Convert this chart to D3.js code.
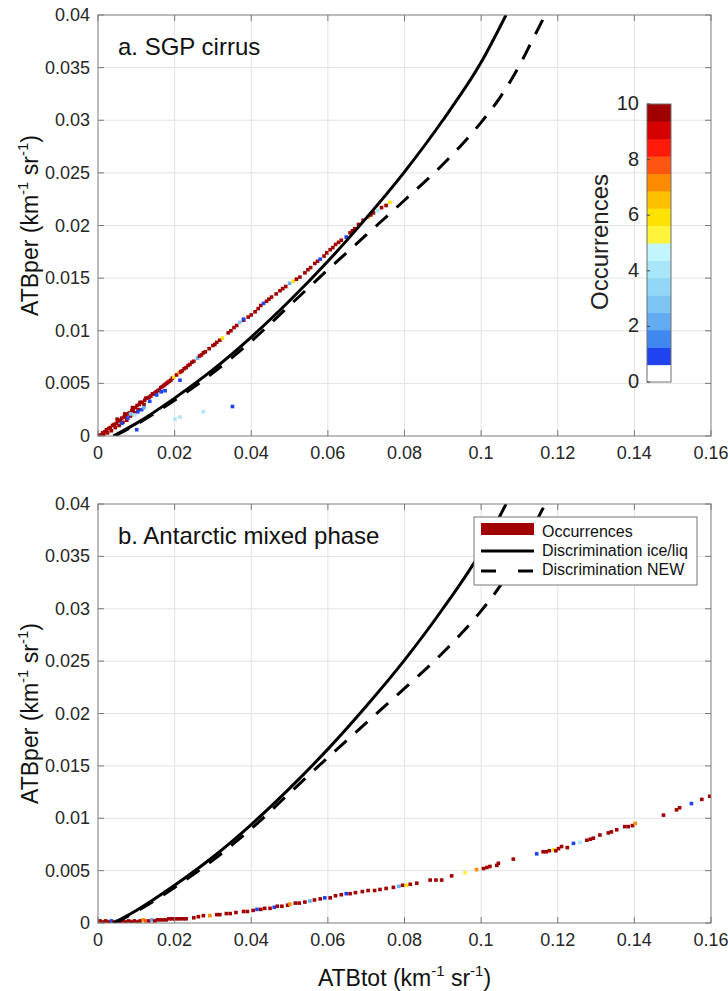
<!DOCTYPE html>
<html><head><meta charset="utf-8">
<script src="https://cdn.jsdelivr.net/npm/d3@7"></script>
<style>
body{margin:0;background:#fff}
svg{display:block}
text{font-family:"Liberation Sans",Arial,Helvetica,sans-serif}
</style>
</head><body>
<svg id="chart" width="728" height="991"></svg>
<script>
// ---------------- data ----------------
const xTicks = [0, 0.02, 0.04, 0.06, 0.08, 0.1, 0.12, 0.14, 0.16];
const xTickLabels = ["0", "0.02", "0.04", "0.06", "0.08", "0.1", "0.12", "0.14", "0.16"];
const yTicks = [0, 0.005, 0.01, 0.015, 0.02, 0.025, 0.03, 0.035, 0.04];
const yTickLabels = ["0", "0.005", "0.01", "0.015", "0.02", "0.025", "0.03", "0.035", "0.04"];
const colorbarTicks = [0, 2, 4, 6, 8, 10];
const colormap = ["#ffffff", "#2043f0", "#3f88ef", "#63acf2", "#7cc4f4", "#93d7f6", "#a9e6f9", "#c3f5fc",
                  "#fff43c", "#ffe300", "#ffc000", "#ff8c00", "#ff5510", "#ff1a0a", "#d50000", "#a10000"];
const legendLabels = ["Occurrences", "Discrimination ice/liq", "Discrimination NEW"];
const panelTitles = ["a. SGP cirrus", "b. Antarctic mixed phase"];

// discrimination curves [ATBtot, ATBper]
const solidCurve = [[0.0040,0],[0.010,0.0012],[0.020,0.0036],[0.030,0.0063],[0.040,0.0094],[0.050,0.01285],
  [0.060,0.0166],[0.070,0.0207],[0.080,0.0251],[0.090,0.0300],[0.100,0.0355],[0.1065,0.0400]];
const dashedCurve = [[0.0044,0],[0.010,0.0011],[0.020,0.0034],[0.030,0.0060],[0.040,0.0090],[0.050,0.0124],
  [0.060,0.0158],[0.070,0.0191],[0.080,0.0224],[0.090,0.0258],[0.095,0.0277],[0.100,0.0298],[0.105,0.0322],
  [0.110,0.0352],[0.1135,0.0377],[0.1170,0.0402]];

// occurrence cells [ATBtot, ATBper, count]
const cirrusCells = [
  [0.0005,0.0001,10],[0.0012,0.0003,10],[0.0015,0.0001,10],[0.0018,0.0004,10],[0.0022,0.0006,10],[0.0025,0.0003,10],
  [0.0028,0.0007,10],[0.0032,0.0008,10],[0.0035,0.0005,10],[0.0038,0.0010,10],[0.0042,0.0011,10],[0.0045,0.0008,10],
  [0.0048,0.0012,10],[0.0050,0.0016,10],[0.0052,0.0014,10],[0.0055,0.0010,10],[0.0058,0.0015,10],[0.0062,0.0017,10],
  [0.0065,0.0013,10],[0.0068,0.0018,10],[0.0070,0.0021,10],[0.0072,0.0019,10],[0.0075,0.0015,10],[0.0078,0.0021,10],
  [0.0082,0.0022,10],[0.0085,0.0019,10],[0.0088,0.0024,10],[0.0090,0.0027,10],[0.0092,0.0025,10],[0.0095,0.0022,10],
  [0.0098,0.0027,10],[0.0102,0.0029,10],[0.0105,0.0025,10],[0.0108,0.0030,10],[0.0110,0.0032,10],[0.0115,0.0032,10],
  [0.0120,0.0030,10],[0.0122,0.0034,10],[0.0125,0.0036,10],[0.0130,0.0036,10],[0.0134,0.0037,10],[0.0138,0.0038,10],
  [0.0142,0.0040,10],[0.0145,0.0040,10],[0.0149,0.0041,10],[0.0152,0.0042,10],[0.0156,0.0043,10],[0.0160,0.0044,10],
  [0.0164,0.0046,10],[0.0168,0.0047,10],[0.0172,0.0048,10],[0.0175,0.0049,10],[0.0179,0.0050,10],[0.0182,0.0051,10],
  [0.0186,0.0052,10],[0.0190,0.0053,10],[0.0194,0.0055,10],
  [0.0198,0.0056,6],[0.0205,0.0058,10],[0.0212,0.0060,7],[0.0216,0.0061,10],[0.0220,0.0062,10],[0.0225,0.0064,10],
  [0.0230,0.0065,10],[0.0235,0.0067,10],[0.0240,0.0068,10],[0.0245,0.0070,10],
  [0.0250,0.0071,10],[0.0260,0.0074,2],[0.0265,0.0076,10],[0.0270,0.0077,10],[0.0275,0.0079,10],[0.0280,0.0080,10],
  [0.0290,0.0083,10],[0.0300,0.0086,10],[0.0305,0.0087,10],
  [0.0310,0.0089,10],[0.0318,0.0091,10],[0.0325,0.0093,6],[0.0340,0.0098,10],[0.0347,0.0100,10],[0.0355,0.0103,10],
  [0.0362,0.0105,10],[0.0370,0.0108,3],[0.0380,0.0110,10],
  [0.0392,0.0113,10],[0.0400,0.0115,10],[0.0410,0.0118,10],[0.0418,0.0121,10],[0.0425,0.0124,10],[0.0432,0.0126,1],
  [0.0440,0.0128,10],[0.0446,0.0130,10],[0.0453,0.0132,10],
  [0.0465,0.0135,10],[0.0475,0.0138,10],[0.0482,0.0140,10],[0.0490,0.0142,10],[0.0500,0.0145,2],[0.0510,0.0147,6],
  [0.0518,0.0149,10],[0.0527,0.0151,10],
  [0.0540,0.0155,10],[0.0548,0.0158,10],[0.0555,0.0160,10],[0.0566,0.0164,10],[0.0573,0.0166,10],[0.0580,0.0168,1],
  [0.0590,0.0171,10],[0.0597,0.0174,10],
  [0.0606,0.0177,10],[0.0613,0.0179,10],[0.0620,0.0182,10],[0.0628,0.0184,10],[0.0635,0.0186,10],[0.0648,0.0189,1],
  [0.0658,0.0193,10],[0.0664,0.0195,10],[0.0670,0.0197,10],
  [0.0680,0.0201,10],[0.0692,0.0205,10],[0.0705,0.0208,7],[0.0712,0.0210,10],[0.0719,0.0212,10],[0.0730,0.0214,4],
  [0.0740,0.0217,10],[0.0752,0.0219,10],[0.0762,0.0222,6],
  [0.0062,0.0012,1],[0.0078,0.0017,1],[0.0085,0.0021,3],[0.0095,0.0020,4],[0.0104,0.0023,1],[0.0114,0.0025,1],
  [0.0153,0.0039,1],[0.0165,0.0042,1],[0.0175,0.0043,1],[0.0214,0.0053,1],[0.0101,0.0006,1],[0.0201,0.0016,4],
  [0.0214,0.0018,4],[0.0275,0.0023,4],[0.0351,0.0028,1],[0.0135,0.0033,1],[0.0120,0.0027,2],[0.0380,0.0111,1]
];
const antarcticCells = [
  [0.0005,0.0002,10],[0.0013,0.0001,10],[0.0020,0.0002,10],[0.0028,0.0001,10],[0.0035,0.0002,1],[0.0042,0.0001,10],
  [0.0050,0.0002,3],[0.0058,0.0001,10],[0.0065,0.0002,10],[0.0072,0.0001,10],[0.0080,0.0002,10],[0.0088,0.0001,10],
  [0.0095,0.0002,10],[0.0103,0.0001,10],[0.0110,0.0002,10],[0.0118,0.0003,7],[0.0125,0.0002,8],[0.0133,0.0002,10],
  [0.0140,0.0003,2],[0.0148,0.0002,10],[0.0155,0.0003,10],[0.0163,0.0003,10],[0.0170,0.0003,10],[0.0178,0.0003,10],
  [0.0185,0.0004,10],[0.0193,0.0004,10],[0.0200,0.0004,10],[0.0208,0.0004,10],[0.0215,0.0004,10],[0.0223,0.0004,10],
  [0.0230,0.0004,10],[0.0250,0.0005,10],[0.0262,0.0006,10],[0.0275,0.0007,10],[0.0292,0.0007,7],[0.0310,0.0008,10],
  [0.0318,0.0008,10],[0.0335,0.0009,10],[0.0345,0.0009,10],[0.0360,0.0010,10],[0.0380,0.0011,10],[0.0390,0.0011,10],
  [0.0405,0.0012,10],[0.0415,0.0013,1],[0.0425,0.0013,10],[0.0435,0.0014,10],[0.0449,0.0014,10],[0.0460,0.0015,1],
  [0.0468,0.0016,10],[0.0480,0.0016,10],[0.0495,0.0017,10],[0.0501,0.0018,7],[0.0515,0.0019,10],[0.0525,0.0019,10],
  [0.0540,0.0020,10],[0.0553,0.0021,2],[0.0565,0.0022,10],[0.0580,0.0023,10],[0.0592,0.0024,1],[0.0606,0.0024,10],
  [0.0620,0.0026,10],[0.0635,0.0027,10],[0.0648,0.0028,1],[0.0658,0.0028,10],[0.0672,0.0029,10],[0.0690,0.0030,10],
  [0.0705,0.0031,10],[0.0722,0.0031,10],[0.0736,0.0032,10],[0.0752,0.0033,10],[0.0771,0.0034,10],[0.0785,0.0035,2],
  [0.0795,0.0036,10],[0.0805,0.0036,6],[0.0815,0.0037,10],[0.0832,0.0038,10],[0.0867,0.0041,10],[0.0882,0.0041,10],
  [0.0897,0.0041,10],[0.0923,0.0045,10],[0.0958,0.0048,5],[0.0988,0.0051,7],[0.1006,0.0052,10],[0.1015,0.0053,10],
  [0.1023,0.0054,10],[0.1041,0.0055,10],[0.1045,0.0057,10],[0.1084,0.0061,10],[0.1145,0.0066,1],[0.1162,0.0068,10],
  [0.1170,0.0068,10],[0.1178,0.0069,10],[0.1189,0.0070,6],[0.1195,0.0069,10],[0.1202,0.0071,10],[0.1210,0.0073,10],
  [0.1225,0.0072,10],[0.1241,0.0076,1],[0.1258,0.0077,4],[0.1276,0.0079,10],[0.1285,0.0080,10],[0.1293,0.0081,10],
  [0.1310,0.0084,10],[0.1332,0.0086,10],[0.1340,0.0087,10],[0.1354,0.0089,10],[0.1375,0.0092,10],[0.1384,0.0092,10],
  [0.1395,0.0093,10],[0.1402,0.0095,7],[0.1476,0.0103,10],[0.1510,0.0108,10],[0.1518,0.0110,10],[0.1549,0.0114,1],
  [0.1576,0.0118,10],[0.1597,0.0121,10]
];
const cellW = 0.00095, cellH = 0.00034;

// ---------------- drawing ----------------
const svg = d3.select("#chart");
const left = 98, right = 711;
const panels = [
  {title: panelTitles[0], top: 15, bottom: 436, cells: cirrusCells, colorbar: true, legend: false, xlabel: false},
  {title: panelTitles[1], top: 504, bottom: 923, cells: antarcticCells, colorbar: false, legend: true, xlabel: true}
];
const color = d3.scaleQuantize().domain([0, 10]).range(colormap);
const axisColor = "#7a7a7a", textColor = "#262626", gridColor = "#e3e3e3";

function addUnits(sel, base, size) {
  sel.append("tspan").text(base + " (km");
  sel.append("tspan").attr("font-size", size * 0.65).attr("dy", -size * 0.42).text("-1");
  sel.append("tspan").attr("dy", size * 0.42).text(" sr");
  sel.append("tspan").attr("font-size", size * 0.65).attr("dy", -size * 0.42).text("-1");
  sel.append("tspan").attr("dy", size * 0.42).text(")");
}

panels.forEach((p, i) => {
  const x = d3.scaleLinear().domain([0, 0.16]).range([left, right]);
  const y = d3.scaleLinear().domain([0, 0.04]).range([p.bottom, p.top]);
  const g = svg.append("g");
  const clipId = "clip" + i;
  svg.append("clipPath").attr("id", clipId).append("rect")
    .attr("x", left).attr("y", p.top).attr("width", right - left).attr("height", p.bottom - p.top);

  // grid
  g.selectAll(".gx").data(xTicks.slice(1, -1)).join("line")
    .attr("x1", d => x(d)).attr("x2", d => x(d)).attr("y1", p.top).attr("y2", p.bottom)
    .attr("stroke", gridColor).attr("stroke-width", 1);
  g.selectAll(".gy").data(yTicks.slice(1, -1)).join("line")
    .attr("y1", d => y(d)).attr("y2", d => y(d)).attr("x1", left).attr("x2", right)
    .attr("stroke", gridColor).attr("stroke-width", 1);

  const plot = g.append("g").attr("clip-path", `url(#${clipId})`);
  // occurrence cells
  plot.selectAll("rect.cell").data(p.cells).join("rect").attr("class", "cell")
    .attr("x", d => x(d[0] - cellW / 2)).attr("y", d => y(d[1] + cellH / 2))
    .attr("width", x(cellW) - x(0)).attr("height", y(0) - y(cellH))
    .attr("fill", d => color(Math.min(d[2], 9.99)));

  // curves
  const line = d3.line().x(d => x(d[0])).y(d => y(d[1])).curve(d3.curveMonotoneX);
  plot.append("path").datum(solidCurve).attr("d", line)
    .attr("fill", "none").attr("stroke", "#000").attr("stroke-width", 3);
  plot.append("path").datum(dashedCurve).attr("d", line)
    .attr("fill", "none").attr("stroke", "#000").attr("stroke-width", 3).attr("stroke-dasharray", "16,12");

  // axes box
  g.append("rect").attr("x", left).attr("y", p.top).attr("width", right - left).attr("height", p.bottom - p.top)
    .attr("fill", "none").attr("stroke", axisColor).attr("stroke-width", 1);
  const tl = 6;
  xTicks.forEach(t => {
    g.append("line").attr("x1", x(t)).attr("x2", x(t)).attr("y1", p.bottom).attr("y2", p.bottom - tl).attr("stroke", axisColor);
    g.append("line").attr("x1", x(t)).attr("x2", x(t)).attr("y1", p.top).attr("y2", p.top + tl).attr("stroke", axisColor);
  });
  yTicks.forEach(t => {
    g.append("line").attr("y1", y(t)).attr("y2", y(t)).attr("x1", left).attr("x2", left + tl).attr("stroke", axisColor);
    g.append("line").attr("y1", y(t)).attr("y2", y(t)).attr("x1", right).attr("x2", right - tl).attr("stroke", axisColor);
  });
  // tick labels
  g.selectAll(".xl").data(xTicks).join("text")
    .attr("x", d => x(d)).attr("y", p.bottom + 23).attr("text-anchor", "middle")
    .attr("font-size", 18).attr("fill", textColor).text((d, j) => xTickLabels[j]);
  g.selectAll(".yl").data(yTicks).join("text")
    .attr("x", left - 8).attr("y", d => y(d) + 6).attr("text-anchor", "end")
    .attr("font-size", 18).attr("fill", textColor).text((d, j) => yTickLabels[j]);

  // y label
  const ylab = g.append("text").attr("text-anchor", "middle").attr("font-size", 23).attr("fill", "#111")
    .attr("transform", `translate(38,${(p.top + p.bottom) / 2}) rotate(-90)`);
  addUnits(ylab, "ATBper", 23);

  if (p.xlabel) {
    const xlab = g.append("text").attr("text-anchor", "middle").attr("font-size", 23).attr("fill", "#111")
      .attr("x", (left + right) / 2).attr("y", 986);
    addUnits(xlab, "ATBtot", 23);
  }

  // title
  g.append("text").attr("x", 118).attr("y", p.top + 40).attr("font-size", 24).attr("fill", "#111").text(p.title);

  // colorbar
  if (p.colorbar) {
    const cy = d3.scaleLinear().domain([0, 10]).range([382, 104]);
    const cx0 = 647, cw = 24;
    const step = 10 / colormap.length;
    g.selectAll(".cb").data(colormap).join("rect")
      .attr("x", cx0).attr("y", (d, j) => cy((j + 1) * step)).attr("width", cw)
      .attr("height", (d, j) => cy(j * step) - cy((j + 1) * step) + 0.5).attr("fill", d => d);
    g.append("rect").attr("x", cx0).attr("y", cy(10)).attr("width", cw).attr("height", cy(0) - cy(10))
      .attr("fill", "none").attr("stroke", "#6e6e6e").attr("stroke-width", 1);
    colorbarTicks.forEach(t => {
      g.append("line").attr("x1", cx0).attr("x2", cx0 + 3).attr("y1", cy(t)).attr("y2", cy(t)).attr("stroke", "#444");
      g.append("text").attr("x", cx0 - 8).attr("y", cy(t) + 6).attr("text-anchor", "end")
        .attr("font-family", "'Liberation Serif','Times New Roman',serif").attr("font-size", 20)
        .attr("fill", textColor).text(t);
    });
    g.append("text").attr("text-anchor", "middle")
      .attr("font-family", "'Liberation Serif','Times New Roman',serif").attr("font-size", 24).attr("fill", "#222")
      .attr("transform", "translate(608,242) rotate(-90)").text("Occurrences");
  }

  // legend
  if (p.legend) {
    const lg = g.append("g");
    lg.append("rect").attr("x", 474).attr("y", 517).attr("width", 223).attr("height", 68)
      .attr("fill", "#fff").attr("stroke", "#777").attr("stroke-width", 1);
    lg.append("rect").attr("x", 481).attr("y", 523).attr("width", 53).attr("height", 12).attr("fill", colormap[15]);
    lg.append("line").attr("x1", 481).attr("x2", 534).attr("y1", 551).attr("y2", 551)
      .attr("stroke", "#000").attr("stroke-width", 3);
    lg.append("line").attr("x1", 481).attr("x2", 534).attr("y1", 571).attr("y2", 571)
      .attr("stroke", "#000").attr("stroke-width", 3).attr("stroke-dasharray", "15,22");
    [537, 556, 575].forEach((yy, j) => {
      lg.append("text").attr("x", 542).attr("y", yy).attr("font-size", 16).attr("fill", "#111").text(legendLabels[j]);
    });
  }
});
</script>
</body></html>
